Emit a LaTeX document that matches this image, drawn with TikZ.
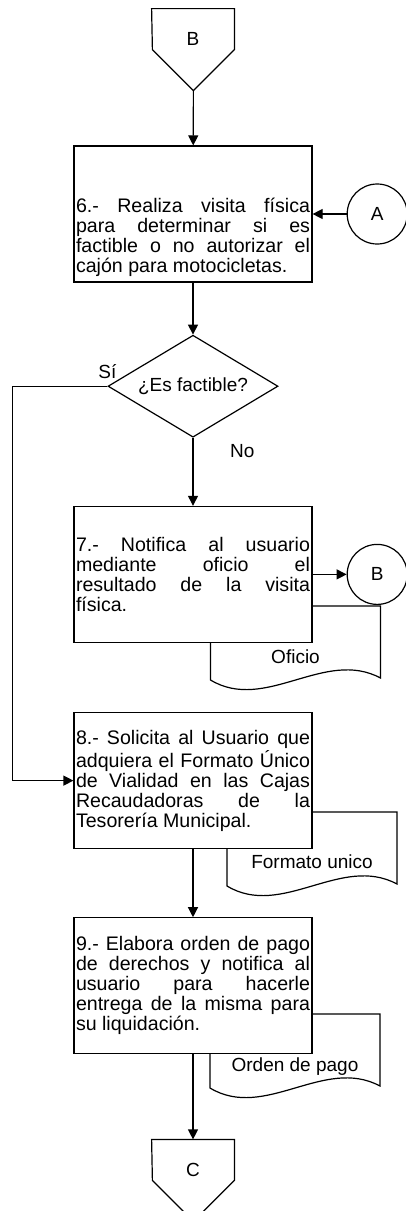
\documentclass[tikz,border=0pt]{standalone}
\usepackage{fontspec}
\setmainfont{Liberation Sans}
\usetikzlibrary{shapes.geometric,arrows.meta,positioning,backgrounds}
\tolerance=10000
\hbadness=10000
\hyphenpenalty=10000

\begin{document}
\begin{tikzpicture}[node distance=34pt,
  every node/.style={font=\fontsize{9.5pt}{10pt}\selectfont},
  linea/.style={line width=0.6pt},
  flecha/.style={line width=0.6pt,-{Triangle[length=5pt,width=5pt]}},
  paso/.style={draw,line width=0.6pt,fill=white,text width=117pt,inner xsep=1pt,minimum height=68pt,align=justify,font=\fontsize{9.8pt}{10pt}\selectfont},
  conector/.style={draw,circle,line width=0.6pt,fill=white,minimum size=30pt,inner sep=0pt},
  pagina/.style={minimum width=41pt,minimum height=30pt,inner sep=0pt},
  docmarco/.style={minimum width=85pt,minimum height=37pt,inner sep=0pt,outer sep=0pt}]
  \useasboundingbox (0,0) rectangle (203pt,-605.5pt);

  \node[pagina] (pagB) at (96.5pt,-19.5pt) {B};
  \draw[linea] (pagB.north west) -- (pagB.north east) -- ++(0,-20.5pt) -- ++(-20.5pt,-20.5pt) coordinate (pagBtip) -- ++(-20.5pt,20.5pt) -- cycle;

  \node[paso,inner ysep=0pt,below=38pt of pagB] (p6) {\mbox{}\\[21pt]6.- Realiza visita física\linebreak para determinar si es\linebreak factible o no autorizar el\linebreak cajón para motocicletas.};
  \node[conector,right=17pt of p6] (conA) {A};
  \node[draw,diamond,line width=0.6pt,fill=white,aspect=1.67,inner sep=0pt,minimum width=85pt,minimum height=51pt,below=26pt of p6] (dec) {¿Es factible?};
  \node[above=0pt of dec.west] (si) {Sí};
  \node[below right=0pt and 15pt of dec.south] (no) {No};
  \node[paso,below=34pt of dec] (p7) {7.- Notifica al usuario\linebreak mediante oficio el\linebreak resultado de la visita\linebreak física.};
  \node[conector,right=17pt of p7] (conB) {B};
  \node[paso,below=34.5pt of p7] (p8) {8.- Solicita al Usuario que\linebreak adquiera el Formato Único\linebreak de Vialidad en las Cajas\linebreak Recaudadoras de la\linebreak Tesorería Municipal.};
  \node[paso,below=34pt of p8] (p9) {9.- Elabora orden de pago\linebreak de derechos y notifica al\linebreak usuario para hacerle\linebreak entrega de la misma para\linebreak su liquidación.};
  \node[pagina,below=42.5pt of p9] (pagC) {C};
  \draw[linea] (pagC.north west) -- (pagC.north east) -- ++(0,-20.5pt) -- ++(-20.5pt,-20.5pt) -- ++(-20.5pt,20.5pt) -- cycle;

  % documentos
  \node[docmarco] (docOf) at (147.75pt,-321.5pt) {};
  \node[docmarco] (docFu) at (156pt,-424.5pt) {};
  \node[docmarco] (docOp) at (147.5pt,-525.5pt) {};
  \node (txtOf) at ([yshift=-7pt]docOf.center) {Oficio};
  \node (txtFu) at ([yshift=-6.5pt]docFu.center) {Formato unico};
  \node (txtOp) at ([yshift=-8pt]docOp.center) {Orden de pago};
  \begin{scope}[on background layer]
    \draw[linea] (docOf.north west) -- (docOf.north east) -- ([yshift=1pt]docOf.south east) .. controls ([xshift=-28pt,yshift=16pt]docOf.south east) and ([xshift=27.5pt,yshift=-16.5pt]docOf.south west) .. (docOf.south west) -- cycle;
    \draw[linea] (docFu.north west) -- (docFu.north east) -- ([yshift=1pt]docFu.south east) .. controls ([xshift=-28pt,yshift=16pt]docFu.south east) and ([xshift=27.5pt,yshift=-16.5pt]docFu.south west) .. (docFu.south west) -- cycle;
    \draw[linea] (docOp.north west) -- (docOp.north east) -- ([yshift=1pt]docOp.south east) .. controls ([xshift=-28pt,yshift=16pt]docOp.south east) and ([xshift=27.5pt,yshift=-16.5pt]docOp.south west) .. (docOp.south west) -- cycle;
  \end{scope}

  \draw[flecha] (pagBtip) -- (p6);
  \draw[flecha] (conA) -- (p6);
  \draw[flecha] (p6) -- (dec);
  \draw[flecha] (dec) -- (p7);
  \draw[flecha] (p7) -- (conB);
  \draw[flecha] (dec.west) -- ++(-47.5pt,0) |- (p8.west);
  \draw[flecha] (p8) -- (p9);
  \draw[flecha] (p9) -- (pagC);
\end{tikzpicture}
\end{document}
